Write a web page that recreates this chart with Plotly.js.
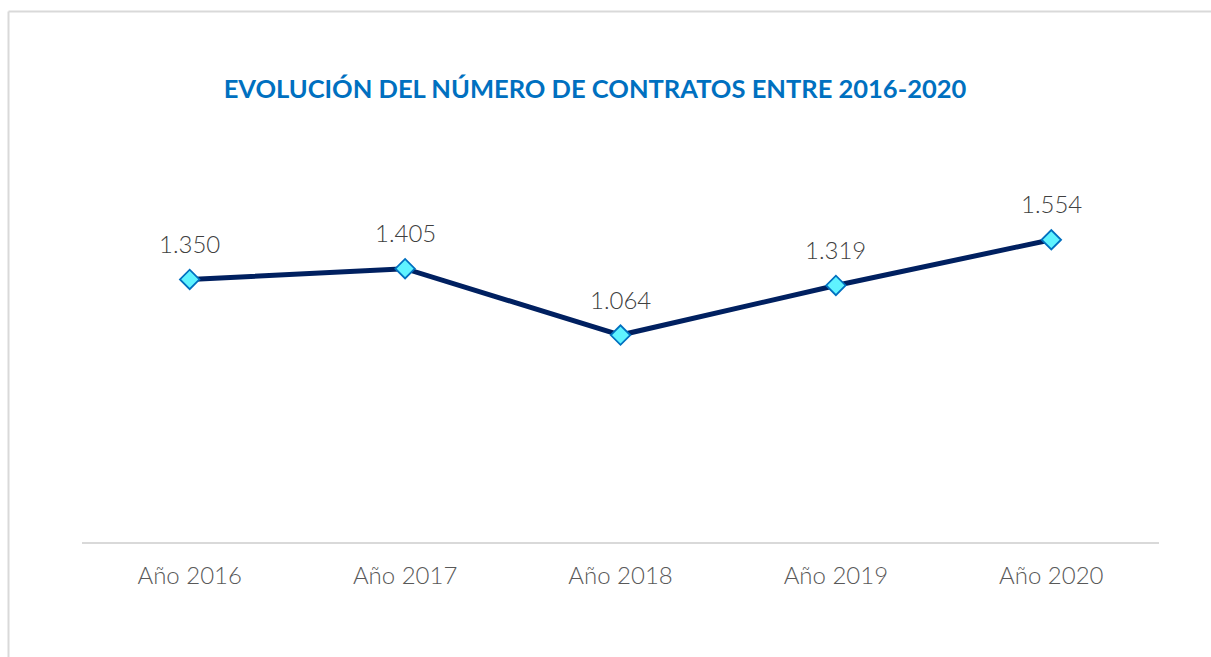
<!DOCTYPE html>
<html>
<head>
<meta charset="utf-8">
<script src="https://cdn.plot.ly/plotly-3.0.1.min.js"></script>
<style>html,body{margin:0;padding:0;background:#fff;}#chart{width:1211px;height:657px;}</style>
</head>
<body>
<div id="chart"></div>
<script>
const categories = ["Año 2016", "Año 2017", "Año 2018", "Año 2019", "Año 2020"];
const contratos = [1350, 1405, 1064, 1319, 1554];
const chartTitle = "EVOLUCIÓN DEL NÚMERO DE CONTRATOS ENTRE 2016-2020";

function fmt(v) {
  return String(v).replace(/\B(?=(\d{3})+(?!\d))/g, ".");
}

const font = "Lato, 'Noto Sans', 'DejaVu Sans', sans-serif";

const trace = {
  x: categories,
  y: contratos,
  type: "scatter",
  mode: "lines+markers",
  line: { color: "#002060", width: 5 },
  marker: { symbol: "diamond", size: 15, color: "#5ff3ff", line: { color: "#0070c0", width: 1.8 } },
  hoverinfo: "x+y"
};

const annotations = categories.map((c, i) => ({
  x: c, y: contratos[i], xref: "x", yref: "y",
  text: fmt(contratos[i]), showarrow: false, yshift: 36,
  font: { family: font, size: 24, weight: 300, color: "#404040" }
}));

const W = 1077, H = 389, L = 82, T = 153;
const px = x => (x - L) / W;
const py = y => (T + H - y) / H;
const border = { color: "#d9d9d9", width: 2 };

const layout = {
  width: 1211, height: 657,
  margin: { l: 82, r: 52, t: 153, b: 115 },
  paper_bgcolor: "#ffffff", plot_bgcolor: "#ffffff",
  showlegend: false,
  title: {
    text: "<b>" + chartTitle + "</b>",
    x: 595 / 1211, xanchor: "center", xref: "container",
    y: 1 - 89 / 657, yanchor: "middle", yref: "container",
    font: { family: font, size: 25.5, color: "#0070c0" }
  },
  xaxis: {
    type: "category",
    range: [-0.5, categories.length - 0.5],
    showline: true, linecolor: "#d9d9d9", linewidth: 2,
    showgrid: false, zeroline: false, ticks: "",
    ticklabelstandoff: 11,
    tickfont: { family: font, size: 24, weight: 300, color: "#595959" },
    fixedrange: true
  },
  yaxis: {
    range: [0, 2000],
    visible: false, showgrid: false, zeroline: false,
    fixedrange: true
  },
  annotations: annotations,
  shapes: [
    { type: "line", xref: "paper", yref: "paper", x0: px(8.5), x1: px(1211), y0: py(11.5), y1: py(11.5), line: border, layer: "below" },
    { type: "line", xref: "paper", yref: "paper", x0: px(8.5), x1: px(8.5), y0: py(11.5), y1: py(657), line: border, layer: "below" }
  ]
};

Plotly.newPlot("chart", [trace], layout, { displayModeBar: false, staticPlot: true });
</script>
</body>
</html>
